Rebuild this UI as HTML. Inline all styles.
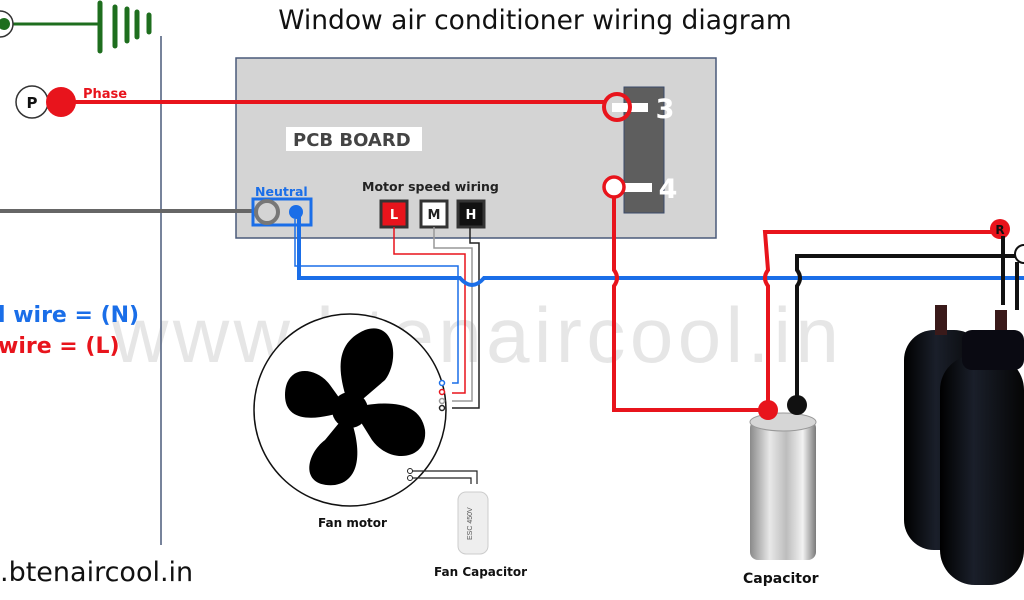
<!DOCTYPE html>
<html><head><style>
html,body{margin:0;padding:0;background:#fff;}
svg{display:block;font-family:"Liberation Sans","DejaVu Sans",sans-serif;}
.b{font-family:"DejaVu Sans","Liberation Sans",sans-serif;font-weight:bold;}
</style></head><body>
<svg width="1024" height="600" viewBox="0 0 1024 600" xmlns="http://www.w3.org/2000/svg">
<defs>
<linearGradient id="cap" x1="0" x2="1">
<stop offset="0" stop-color="#8a8a8a"/><stop offset="0.3" stop-color="#e8e8e8"/><stop offset="0.55" stop-color="#bdbdbd"/><stop offset="0.8" stop-color="#f2f2f2"/><stop offset="1" stop-color="#7a7a7a"/>
</linearGradient>
<linearGradient id="comp" x1="0" x2="1">
<stop offset="0" stop-color="#000"/><stop offset="0.4" stop-color="#1a1f2a"/><stop offset="1" stop-color="#050505"/>
</linearGradient>
</defs>
<text x="112" y="362" font-size="78" fill="#e6e6e6" letter-spacing="4.5">www.btenaircool.in</text>
<text x="535" y="29" font-size="26.5" fill="#111" text-anchor="middle" font-family="DejaVu Sans, sans-serif">Window air conditioner wiring diagram</text>
<line x1="0" y1="24" x2="100" y2="24" stroke="#1e6e1e" stroke-width="3"/>
<circle cx="0" cy="24" r="13" fill="#fff" stroke="#333" stroke-width="1.5"/>
<circle cx="4" cy="24" r="6" fill="#1e6e1e"/>
<g stroke="#1e6e1e" stroke-linecap="round">
<line x1="100" y1="3" x2="100" y2="51" stroke-width="5"/>
<line x1="115" y1="7" x2="115" y2="46" stroke-width="5"/>
<line x1="127" y1="9" x2="127" y2="41" stroke-width="5"/>
<line x1="137" y1="12" x2="137" y2="37" stroke-width="5"/>
<line x1="149" y1="15" x2="149" y2="32" stroke-width="5"/>
</g>
<line x1="161" y1="36" x2="161" y2="545" stroke="#4a5a7a" stroke-width="1.5"/>
<rect x="236" y="58" width="480" height="180" fill="#d4d4d4" stroke="#4a5a7a" stroke-width="1.5"/>
<rect x="624" y="87" width="40" height="126" fill="#5e5e5e" stroke="#3a4a6a" stroke-width="1"/>
<rect x="286" y="127" width="136" height="24" fill="#fff"/>
<text x="293" y="146" class="b" font-size="18" fill="#444">PCB BOARD</text>
<circle cx="32" cy="102" r="16" fill="#fff" stroke="#333" stroke-width="1.5"/>
<text x="32" y="108" class="b" font-size="15" text-anchor="middle" fill="#111">P</text>
<line x1="60" y1="102" x2="605" y2="102" stroke="#e8141c" stroke-width="4"/>
<circle cx="61" cy="102" r="15" fill="#e8141c"/>
<text x="83" y="98" class="b" font-size="13" fill="#e8141c">Phase</text>
<rect x="612" y="103" width="36" height="9" fill="#fff"/>
<circle cx="617" cy="107" r="13" fill="none" stroke="#e8141c" stroke-width="4"/>
<text x="665" y="118" class="b" font-size="27" fill="#fff" text-anchor="middle">3</text>
<rect x="612" y="183" width="40" height="9" fill="#fff"/>
<circle cx="614" cy="187" r="10" fill="#fff" stroke="#e8141c" stroke-width="3.5"/>
<text x="668" y="198" class="b" font-size="27" fill="#fff" text-anchor="middle">4</text>
<line x1="0" y1="211" x2="256" y2="211" stroke="#666" stroke-width="4"/>
<text x="255" y="196" class="b" font-size="12.5" fill="#1a6ee8">Neutral</text>
<rect x="253" y="199" width="58" height="26" fill="none" stroke="#1a6ee8" stroke-width="3"/>
<circle cx="267" cy="212" r="11" fill="none" stroke="#777" stroke-width="4"/>
<circle cx="296" cy="212" r="7" fill="#1a6ee8"/>
<text x="362" y="191" class="b" font-size="12.5" fill="#222">Motor speed wiring</text>
<rect x="381" y="201" width="26" height="26" fill="#e8141c" stroke="#333" stroke-width="3"/>
<text x="394" y="219" class="b" font-size="13" fill="#fff" text-anchor="middle">L</text>
<rect x="421" y="201" width="26" height="26" fill="#fff" stroke="#333" stroke-width="3"/>
<text x="434" y="219" class="b" font-size="13" fill="#222" text-anchor="middle">M</text>
<rect x="458" y="201" width="26" height="26" fill="#111" stroke="#333" stroke-width="3"/>
<text x="471" y="219" class="b" font-size="13" fill="#fff" text-anchor="middle">H</text>
<polyline points="295,219 295,266 458,266 458,383 452,383" fill="none" stroke="#1a6ee8" stroke-width="1.5"/>
<polyline points="394,227 394,254 465,254 465,393 452,393" fill="none" stroke="#e8141c" stroke-width="1.5"/>
<polyline points="434,227 434,248 472,248 472,401 452,401" fill="none" stroke="#999" stroke-width="1.5"/>
<polyline points="470,227 470,243 479,243 479,408 452,408" fill="none" stroke="#222" stroke-width="1.5"/>
<path d="M299,214 L299,278 L460,278 Q472,292 484,278 L1024,278" fill="none" stroke="#1a6ee8" stroke-width="4"/>
<path d="M614,197 L614,270 Q620,278 614,286 L614,410 L768,410" fill="none" stroke="#e8141c" stroke-width="4"/>
<path d="M768,410 L768,286 Q762,278 768,270 L765,232 L1000,232" fill="none" stroke="#e8141c" stroke-width="4"/>
<path d="M797,404 L797,286 Q803,278 797,270 L797,256 L1024,256" fill="none" stroke="#111" stroke-width="4"/>
<circle cx="1000" cy="229" r="10" fill="#e8141c"/>
<text x="1000" y="234" class="b" font-size="12" text-anchor="middle" fill="#111">R</text>
<circle cx="1024" cy="254" r="9" fill="#fff" stroke="#111" stroke-width="2"/>
<circle cx="350" cy="410" r="96" fill="#fff" stroke="#111" stroke-width="1.5"/>
<g fill="#000">
<path d="M350,410 C340,380 330,345 365,330 C395,320 400,360 385,380 Z"/>
<path d="M352,408 C385,400 420,400 425,430 C428,460 390,465 372,440 Z"/>
<path d="M348,412 C360,440 365,480 335,485 C300,488 305,455 325,440 Z"/>
<path d="M348,410 C320,420 285,425 285,395 C285,365 315,365 330,385 Z"/>
<circle cx="350" cy="410" r="18"/>
</g>
<g fill="#fff" stroke-width="1.5">
<circle cx="442" cy="383" r="2.5" stroke="#1a6ee8"/>
<circle cx="442" cy="392" r="2.5" stroke="#e8141c"/>
<circle cx="442" cy="401" r="2.5" stroke="#999"/>
<circle cx="442" cy="408" r="2.5" stroke="#222"/>
</g>
<polyline points="410,471 477,471 477,484" fill="none" stroke="#222" stroke-width="1.2"/>
<polyline points="410,478 471,478 471,484" fill="none" stroke="#222" stroke-width="1.2"/>
<circle cx="410" cy="471" r="2.5" fill="#fff" stroke="#222"/>
<circle cx="410" cy="478" r="2.5" fill="#fff" stroke="#222"/>
<rect x="458" y="492" width="30" height="62" rx="8" fill="#eeeeee" stroke="#ccc"/>
<text x="472" y="540" font-size="7" fill="#555" transform="rotate(-90 472 540)">ESC 450V</text>
<text x="318" y="527" class="b" font-size="12" fill="#111">Fan motor</text>
<text x="434" y="576" class="b" font-size="12" fill="#111">Fan Capacitor</text>
<rect x="750" y="420" width="66" height="140" rx="8" fill="url(#cap)"/>
<ellipse cx="783" cy="422" rx="33" ry="9" fill="#d6d6d6" stroke="#999"/>
<circle cx="768" cy="410" r="10" fill="#e8141c"/>
<circle cx="797" cy="405" r="10" fill="#111"/>
<text x="743" y="583" class="b" font-size="14" fill="#111">Capacitor</text>
<rect x="904" y="330" width="80" height="220" rx="30" fill="url(#comp)"/>
<rect x="935" y="305" width="12" height="30" fill="#3a1a1a"/>
<rect x="995" y="310" width="12" height="30" fill="#3a1a1a"/>
<rect x="940" y="355" width="84" height="230" rx="35" fill="url(#comp)"/>
<rect x="962" y="330" width="62" height="40" rx="10" fill="#0a0a12"/>
<line x1="1003" y1="236" x2="1003" y2="305" stroke="#111" stroke-width="4"/>
<line x1="1017" y1="262" x2="1017" y2="310" stroke="#111" stroke-width="4"/>
<text x="-2" y="322" class="b" font-size="22" fill="#1a6ee8">l wire = (N)</text>
<text x="-2" y="353" class="b" font-size="22" fill="#e8141c">wire = (L)</text>
<text x="0" y="581" font-size="27" fill="#111" font-family="DejaVu Sans, sans-serif">.btenaircool.in</text>
</svg>
</body></html>
